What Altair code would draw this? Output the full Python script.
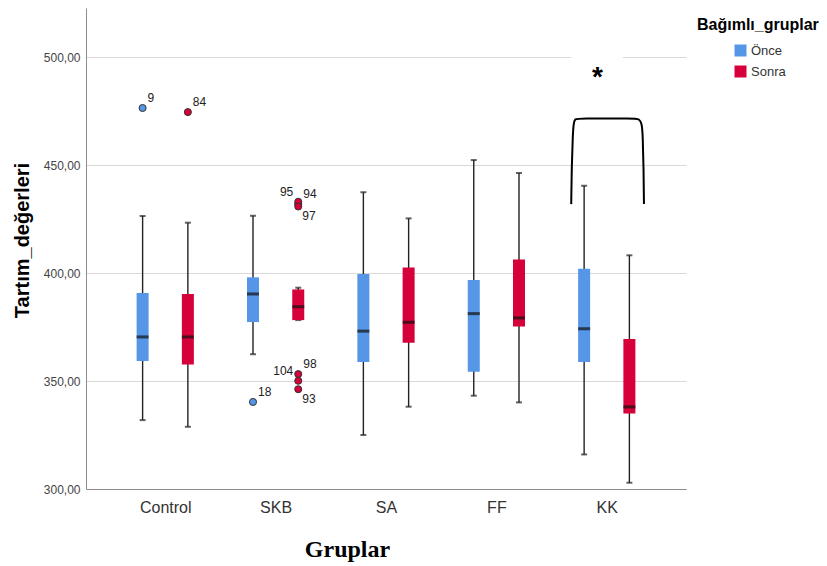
import json
import altair as alt
import pandas as pd

# ---- groups and series -------------------------------------------------
groups = ["Control", "SKB", "SA", "FF", "KK"]
series = ["Önce", "Sonra"]
series_colors = ["#5596e6", "#d6003a"]

# ---- box-plot summary statistics (Tartım değerleri) ---------------------
once_low    = [331.9, 362.4, 325.0, 343.2, 316.0]
once_q1     = [359.3, 377.3, 358.8, 354.3, 358.8]
once_median = [370.4, 390.3, 373.1, 381.2, 374.2]
once_q3     = [390.7, 398.0, 399.5, 396.8, 402.0]
once_high   = [426.4, 426.5, 437.4, 452.3, 440.4]

sonra_low    = [328.8, 378.2, 338.1, 340.1, 302.9]
sonra_q1     = [357.7, 378.2, 367.7, 375.2, 335.0]
sonra_median = [370.4, 384.4, 377.2, 379.2, 338.0]
sonra_q3     = [390.3, 392.4, 402.6, 406.3, 369.4]
sonra_high   = [423.3, 393.2, 425.3, 446.3, 408.2]

# ---- outliers ------------------------------------------------------------
outlier_group  = ["Control", "Control", "SKB", "SKB", "SKB", "SKB", "SKB", "SKB", "SKB"]
outlier_series = ["Önce", "Sonra", "Önce", "Sonra", "Sonra", "Sonra", "Sonra", "Sonra", "Sonra"]
outlier_value  = [476.4, 474.5, 340.3, 431.9, 433.0, 430.8, 353.2, 350.1, 346.2]
outlier_id     = ["9", "84", "18", "94", "95", "97", "98", "104", "93"]
outlier_place  = ["ur", "ur", "ur", "ur", "ul", "lr", "ur", "ul", "lr"]

# ---- significance bracket (KK Önce vs Sonra) ----------------------------
bracket_x = [3.678, 3.682, 3.692, 3.700, 3.712, 3.740, 4.260, 4.290, 4.318, 4.326, 4.334, 4.337]
bracket_y = [431.9, 447.7, 463.9, 469.5, 471.3, 471.6, 471.6, 471.3, 469.5, 463.9, 447.7, 431.9]
star_x, star_y, star_text = [3.915], [490.3], ["*"]
star_box = {"x": 3.675, "x2": 4.147, "y": 484.0, "y2": 506.0}

# layout: horizontal shift of each series inside its group
pair_shift = {"Önce": -0.205, "Sonra": 0.205}

stats = {
    "Önce": (once_low, once_q1, once_median, once_q3, once_high),
    "Sonra": (sonra_low, sonra_q1, sonra_median, sonra_q3, sonra_high),
}
rows = []
for s in series:
    lo, q1, md, q3, hi = stats[s]
    for i, g in enumerate(groups):
        rows.append(dict(group=g, series=s, pos=i + pair_shift[s],
                         low=lo[i], q1=q1[i], median=md[i], q3=q3[i], high=hi[i]))
box_df = pd.DataFrame(rows)

out_df = pd.DataFrame({
    "group": outlier_group, "series": outlier_series, "value": outlier_value,
    "id": outlier_id, "place": outlier_place,
})
out_df["pos"] = [groups.index(g) + pair_shift[s] for g, s in zip(outlier_group, outlier_series)]

bracket_df = pd.DataFrame({"x": bracket_x, "y": bracket_y, "order": list(range(len(bracket_x)))})
star_df = pd.DataFrame({"x": star_x, "y": star_y, "t": star_text})
star_box_df = pd.DataFrame([star_box])

# ---- scales & axes ------------------------------------------------------
SANS = "Liberation Sans"
x_scale = alt.Scale(domain=[-0.6726, 4.6726], nice=False, zero=False)
y_scale = alt.Scale(domain=[300, 522.7], nice=False, zero=False)

x_axis = alt.Axis(
    values=list(range(len(groups))),
    labelExpr=json.dumps(groups) + "[datum.value]",
    ticks=False, grid=False, domainColor="#8c8c8c", domainWidth=1,
    labelFont=SANS, labelFontSize=16, labelColor="#333333", labelPadding=10,
    title="Gruplar", titleFont="Liberation Serif", titleFontSize=24,
    titleFontWeight="bold", titleColor="#000000",
    titleX=261, titleY=60, titleAlign="center", titleBaseline="middle",
)
y_axis = alt.Axis(
    values=[300, 350, 400, 450, 500],
    labelExpr="replace(format(datum.value, '.2f'), '.', ',')",
    ticks=False, grid=True, gridColor="#d9d9d9", gridWidth=1,
    domainColor="#8c8c8c", domainWidth=1,
    labelFont=SANS, labelFontSize=12, labelColor="#444444", labelPadding=6,
    title="Tartım_değerleri", titleFont=SANS, titleFontSize=20,
    titleFontWeight="bold", titleColor="#000000", titleAngle=270,
    titleX=-64, titleY=232, titleAlign="center", titleBaseline="middle",
)

color_scale = alt.Scale(domain=series, range=series_colors)
legend = alt.Legend(
    title="Bağımlı_gruplar", orient="none", legendX=611, legendY=9, padding=0,
    titleFont=SANS, titleFontSize=16, titleFontWeight="bold", titleColor="#000000",
    titlePadding=11,
    labelFont=SANS, labelFontSize=13, labelColor="#333333", labelOffset=4,
    symbolType="square", symbolSize=144, symbolStrokeWidth=0, symbolOffset=37,
    rowPadding=7,
)

base = alt.Chart(box_df)
X = alt.X("pos:Q", scale=x_scale, axis=x_axis)

# white patch behind the significance star
star_patch = alt.Chart(star_box_df).mark_rect(color="white").encode(
    x=alt.X("x:Q", scale=x_scale, axis=x_axis), x2="x2:Q",
    y=alt.Y("y:Q", scale=y_scale, axis=y_axis), y2="y2:Q",
)

whiskers = base.mark_rule(color="#222222", strokeWidth=1.4).encode(
    x=X, y=alt.Y("low:Q", scale=y_scale, axis=y_axis), y2="high:Q",
)

caps = base.transform_fold(["low", "high"], as_=["end", "v"]).mark_tick(
    orient="horizontal", size=6, thickness=2, color="#222222"
).encode(x=X, y=alt.Y("v:Q", scale=y_scale, axis=y_axis))

boxes = base.mark_bar(size=12, orient="vertical").encode(
    x=X,
    y=alt.Y("q1:Q", scale=y_scale, axis=y_axis), y2="q3:Q",
    color=alt.Color("series:N", scale=color_scale, legend=legend),
)

medians = base.mark_tick(orient="horizontal", size=12, thickness=3, color="#111111").encode(
    x=X, y=alt.Y("median:Q", scale=y_scale, axis=y_axis),
)

out_base = alt.Chart(out_df)
OX = alt.X("pos:Q", scale=x_scale, axis=x_axis)
OY = alt.Y("value:Q", scale=y_scale, axis=y_axis)

points = out_base.mark_circle(size=50, stroke="#333333", strokeWidth=1, opacity=1).encode(
    x=OX, y=OY, color=alt.Color("series:N", scale=color_scale, legend=None),
)

label_style = dict(fontSize=12, font=SANS, color="#222222", baseline="middle")
labels_ur = out_base.transform_filter("datum.place == 'ur'").mark_text(
    align="left", dx=5, dy=-10, **label_style).encode(x=OX, y=OY, text="id:N")
labels_ul = out_base.transform_filter("datum.place == 'ul'").mark_text(
    align="right", dx=-5, dy=-10, **label_style).encode(x=OX, y=OY, text="id:N")
labels_lr = out_base.transform_filter("datum.place == 'lr'").mark_text(
    align="left", dx=4, dy=10, **label_style).encode(x=OX, y=OY, text="id:N")

bracket = alt.Chart(bracket_df).mark_line(
    color="#000000", strokeWidth=2, interpolate="basis"
).encode(
    x=alt.X("x:Q", scale=x_scale, axis=x_axis),
    y=alt.Y("y:Q", scale=y_scale, axis=y_axis),
    order="order:Q",
)

star = alt.Chart(star_df).mark_text(
    font=SANS, fontSize=28, fontWeight="bold", color="#000000",
    align="center", baseline="middle",
).encode(
    x=alt.X("x:Q", scale=x_scale, axis=x_axis),
    y=alt.Y("y:Q", scale=y_scale, axis=y_axis),
    text="t:N",
)

chart = alt.layer(
    star_patch, whiskers, caps, boxes, medians, points,
    labels_ur, labels_ul, labels_lr, bracket, star,
).properties(
    width=600, height=481,
    autosize=alt.AutoSizeParams(type="none"),
    padding={"left": 86, "top": 8, "right": 141, "bottom": 77},
    background="white",
).configure_view(stroke=None)

chart.save("out.html", embed_options={"renderer": "svg", "actions": False})
